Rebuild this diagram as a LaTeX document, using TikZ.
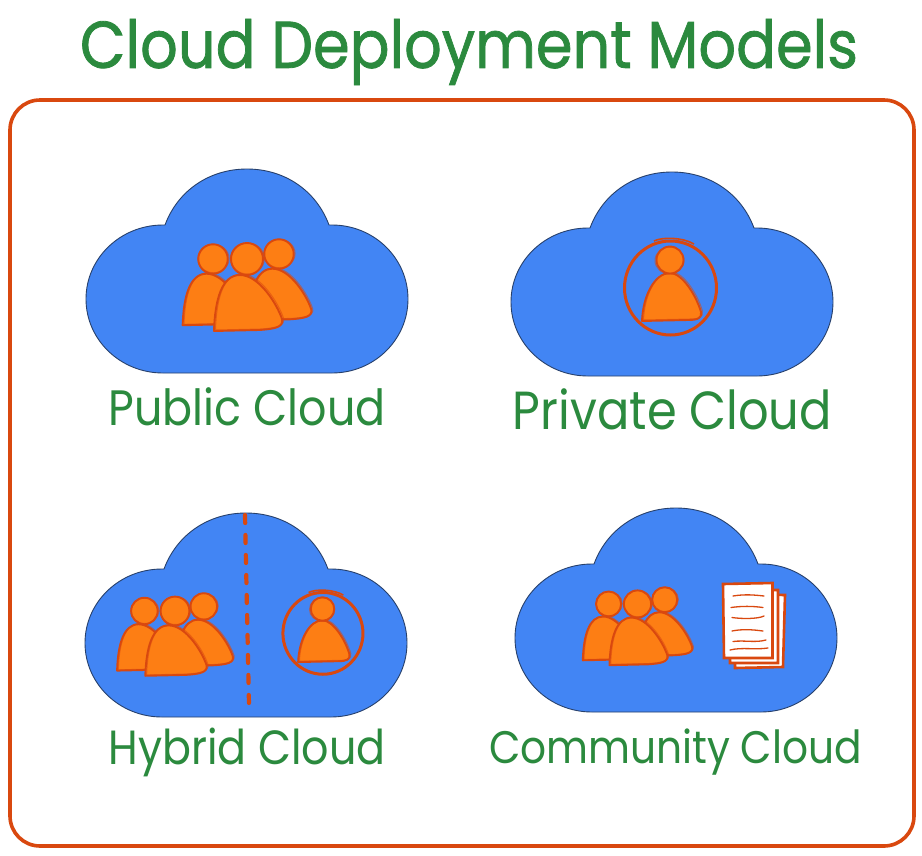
\documentclass[tikz,border=0pt]{standalone}
\usepackage{fontspec}
\usepackage{graphicx}
\setmainfont{Poppins}
\newfontfamily\titlefont[FakeBold=1.2]{Poppins}
\definecolor{gr}{HTML}{2B8A3E}
\definecolor{rd}{HTML}{D9480F}
\definecolor{og}{HTML}{FD7E14}
\definecolor{bl}{HTML}{4285F4}
\definecolor{ol}{HTML}{27406B}
\tikzset{
  cloudshape/.style={fill=bl,draw=ol,line width=0.9pt},
  frame/.style={draw=rd,line width=3.6pt,rounded corners=30pt},
  divider/.style={draw=rd,line width=4.2pt,line cap=round,dash pattern=on 8pt off 12pt},
  bodyfill/.style={fill=og,draw=rd,line width=1.9pt,line join=round},
  sketch/.style={draw=rd,opacity=.55,line width=1pt},
  ring/.style={draw=rd,line width=3pt},
  page/.style={fill=white,draw=rd,line width=2.6pt},
  scrib/.style={draw=rd,line width=1.3pt,line cap=round},
  label/.style={text=gr,inner sep=0pt,anchor=center}
}
\newcommand{\cloudat}[2]{%
  \begin{scope}[shift={(#1,#2)}]
    \draw[cloudshape] (163,373) arc[start angle=90,end angle=270,x radius=77,y radius=74]
      -- (165,225) .. controls (178,190) and (210,169) .. (247,169)
      .. controls (284,169) and (316,190) .. (329,225)
      -- (332,225) arc[start angle=270,end angle=450,x radius=76,y radius=74] -- cycle;
  \end{scope}}
\newcommand{\bodypath}{(-33,72) .. controls (-32,40) and (-25,16) .. (-7,16)
   .. controls (12,16) and (30,45) .. (35,60)
   .. controls (37,68) and (28,70) .. (12,71) -- cycle}
\newcommand{\onefig}[3]{%
  \begin{scope}[shift={(#1,#2)},scale=#3]
    \draw[bodyfill] \bodypath;
    \draw[sketch,shift={(1.5,-1)}] \bodypath;
    \draw[bodyfill] (0,0) circle[radius=16];
    \draw[sketch] (0.5,-0.5) ellipse[x radius=17,y radius=15.5];
  \end{scope}}
\newcommand{\group}[3]{%
  \begin{scope}[shift={(#1,#2)},scale=#3]
    \onefig{32}{-5}{0.92}
    \onefig{-34}{0}{0.92}
    \onefig{0}{0}{1}
  \end{scope}}
\newcommand{\solopath}{(-28,61) .. controls (-27,35) and (-15,13) .. (0,13)
   .. controls (12,13) and (26,35) .. (31,52)
   .. controls (32,58) and (28,60) .. (18,60) -- cycle}
\newcommand{\solo}[3]{%
  \begin{scope}[shift={(#1,#2)},scale=#3]
    \draw[ring] (0.5,28) ellipse[x radius=46,y radius=47];
    \draw[draw=rd,line width=1.6pt] (-16,-19) .. controls (-8,-23) and (12,-23) .. (24,-16);
    \draw[bodyfill] \solopath;
    \draw[sketch,shift={(1.5,-1)}] \solopath;
    \draw[bodyfill] (0,0) circle[radius=13.5];
    \draw[sketch] (-0.5,0.5) ellipse[x radius=14.5,y radius=13.5];
  \end{scope}}
\newcommand{\fitlabel}[2]{\scalebox{1}[1.12]{\resizebox{#1pt}{!}{\fontsize{46}{46}\selectfont #2}}}
\begin{document}
\begin{tikzpicture}[x=1pt,y=-1pt]
\useasboundingbox (0,0) rectangle (922,855);
\fill[white] (0,0) rectangle (922,855);
\draw[frame] (10,100) rectangle (914,846);
\cloudat{0}{0}
\cloudat{425}{3}
\cloudat{-1}{344}
\cloudat{429}{339}
\draw[divider] (245,515) -- (249,705);
\group{247}{259}{1}
\group{175}{611}{0.9}
\group{637.5}{604}{0.85}
\solo{670}{260}{1}
\solo{322.5}{609}{0.87}
% document stack
\draw[page] (734,594) -- (785,595) -- (783,667) -- (735,668) -- cycle;
\draw[page] (729,590) -- (778,590) -- (778,663) -- (730,663) -- cycle;
\draw[page] (723,584) -- (772.5,583) -- (772.5,658) -- (724,658) -- cycle;
\draw[scrib] (733,596) .. controls (745,594) and (755,595) .. (764,596);
\draw[scrib] (731,607.5) .. controls (742,606) and (752,606) .. (763,607.5);
\draw[scrib] (732,617.5) .. controls (742,619) and (758,619) .. (764,616);
\draw[scrib] (732,631) .. controls (742,629) and (752,629.5) .. (763,631);
\draw[scrib] (733,641.5) .. controls (745,640) and (755,643) .. (766,640);
\draw[scrib] (730,650) .. controls (742,647) and (755,650) .. (768,648);
% texts
\node[label] (title) at (469,52) {\scalebox{1}[1.12]{\resizebox{778pt}{!}{\titlefont\fontsize{68}{68}\selectfont Cloud Deployment Models}}};
\node[label] (pub) at (247,407) {\fitlabel{277}{Public Cloud}};
\node[label] (pri) at (672.5,409) {\fitlabel{319}{Private Cloud}};
\node[label] (hyb) at (247,752) {\fitlabel{277}{Hybrid Cloud}};
\node[label] (com) at (675.5,752) {\fitlabel{373}{Community Cloud}};
\end{tikzpicture}
\end{document}
